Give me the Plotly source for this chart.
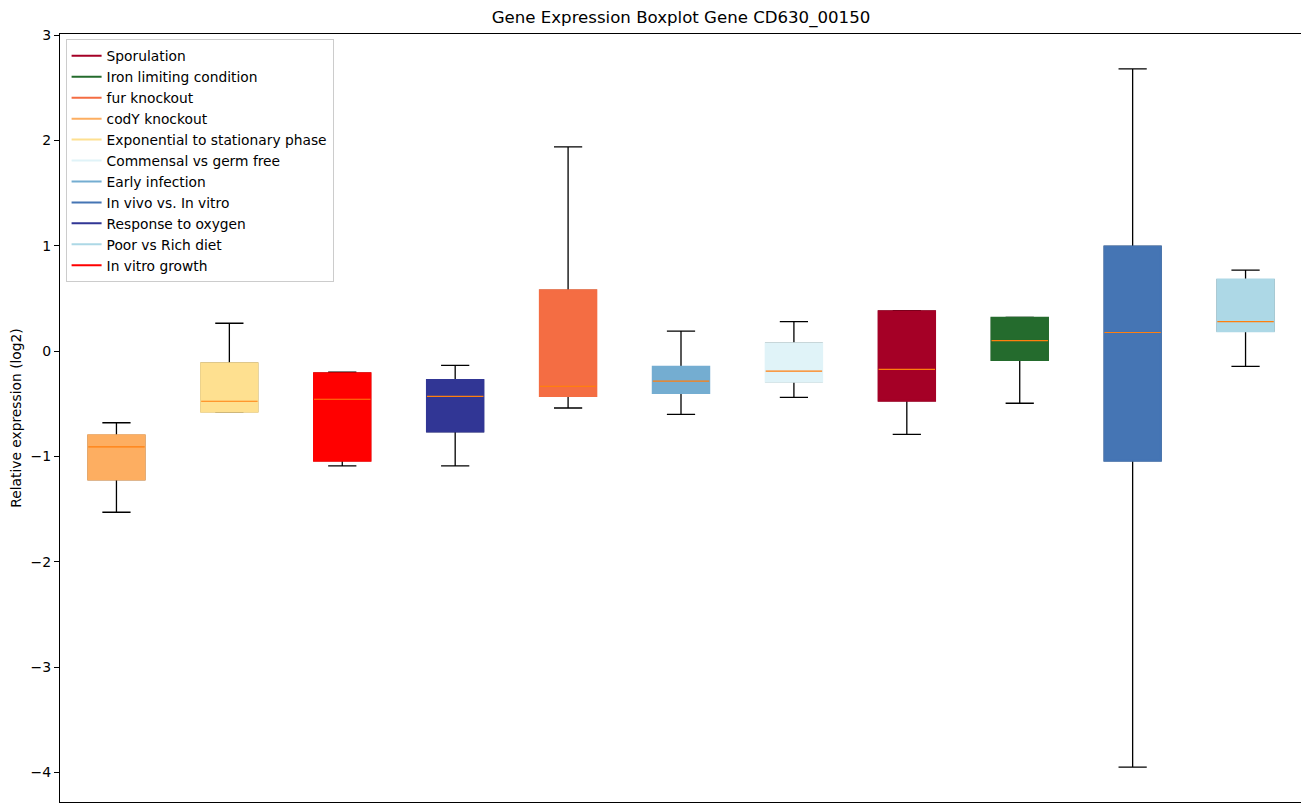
import plotly.graph_objects as go

# boxes in the order they sit along the x axis
groups = ['codY knockout', 'Exponential to stationary phase', 'In vitro growth',
          'Response to oxygen', 'fur knockout', 'Early infection',
          'Commensal vs germ free', 'Sporulation', 'Iron limiting condition',
          'In vivo vs. In vitro', 'Poor vs Rich diet']
positions = [1, 2, 3, 4, 5, 6, 7, 8, 9, 10, 11]
lower_whisker = [-1.53, -0.58, -1.09, -1.09, -0.54, -0.60, -0.44, -0.79, -0.495, -3.95, -0.145]
q1_vals = [-1.22, -0.575, -1.04, -0.764, -0.426, -0.398, -0.29, -0.47, -0.085, -1.04, 0.19]
medians = [-0.91, -0.476, -0.457, -0.43, -0.335, -0.284, -0.19, -0.174, 0.10, 0.177, 0.28]
q3_vals = [-0.80, -0.114, -0.21, -0.275, 0.578, -0.148, 0.076, 0.379, 0.316, 0.994, 0.68]
upper_whisker = [-0.68, 0.265, -0.20, -0.136, 1.94, 0.19, 0.28, 0.385, 0.32, 2.68, 0.77]

colours = {
    'Sporulation': '#a50026',
    'Iron limiting condition': '#246b2d',
    'fur knockout': '#f46d43',
    'codY knockout': '#fdae61',
    'Exponential to stationary phase': '#fee090',
    'Commensal vs germ free': '#e0f3f8',
    'Early infection': '#74add1',
    'In vivo vs. In vitro': '#4575b4',
    'Response to oxygen': '#313695',
    'Poor vs Rich diet': '#add8e6',
    'In vitro growth': '#ff0000',
}
legend_order = list(colours.keys())

fig = go.Figure()

for name, x, lo, q1, med, q3, hi in zip(groups, positions, lower_whisker, q1_vals,
                                         medians, q3_vals, upper_whisker):
    col = colours[name]
    # black whiskers and caps
    fig.add_trace(go.Box(x=[x], q1=[q1], median=[med], q3=[q3],
                         lowerfence=[lo], upperfence=[hi],
                         width=0.5, whiskerwidth=0.5, fillcolor=col,
                         line=dict(color='black', width=1.3),
                         boxpoints=False, showlegend=False, hoverinfo='skip'))
    # filled box drawn on top to hide the black outline
    fig.add_trace(go.Box(x=[x], q1=[q1], median=[med], q3=[q3],
                         lowerfence=[q1], upperfence=[q3],
                         width=0.5, whiskerwidth=0, fillcolor=col,
                         line=dict(color=col, width=2),
                         boxpoints=False, showlegend=False, hoverinfo='skip'))
    # orange median line
    fig.add_trace(go.Box(x=[x], q1=[med], median=[med], q3=[med],
                         lowerfence=[med], upperfence=[med],
                         width=0.5, whiskerwidth=0, fillcolor='#ff7f0e',
                         line=dict(color='#ff7f0e', width=1.2),
                         boxpoints=False, showlegend=False, hoverinfo='skip'))

# legend handles
for name in legend_order:
    fig.add_trace(go.Scatter(x=[None], y=[None], mode='lines', name=name,
                             line=dict(color=colours[name], width=2)))

# page body adds an 8px offset, so the figure is a little smaller than the window
fig.update_layout(
    width=1301, height=804,
    margin=dict(l=52, r=7, t=26, b=10),
    plot_bgcolor='white', paper_bgcolor='white',
    font=dict(family='DejaVu Sans', size=14, color='black'),
    title=dict(text='Gene Expression Boxplot Gene CD630_00150', x=0.5, xref='paper',
               xanchor='center', y=0.989, yanchor='middle', font=dict(size=16.6)),
    boxmode='overlay',
    legend=dict(x=0.0045, y=0.993, xanchor='left', yanchor='top',
                bgcolor='white', bordercolor='#cccccc', borderwidth=1,
                font=dict(size=13.8), tracegroupgap=0),
)
fig.update_xaxes(range=[0.5, 11.5], showticklabels=False, ticks='', showgrid=False,
                 zeroline=False, showline=True, linecolor='black', linewidth=1, mirror=True)
fig.update_yaxes(range=[-4.282, 3.012], dtick=1, ticks='outside', ticklen=5,
                 tickcolor='black', showgrid=False, zeroline=False, showline=True,
                 linecolor='black', linewidth=1, mirror=True, automargin=False,
                 title=dict(text='Relative expression (log2)', font=dict(size=13.8), standoff=10))

fig.write_html("out.html")
